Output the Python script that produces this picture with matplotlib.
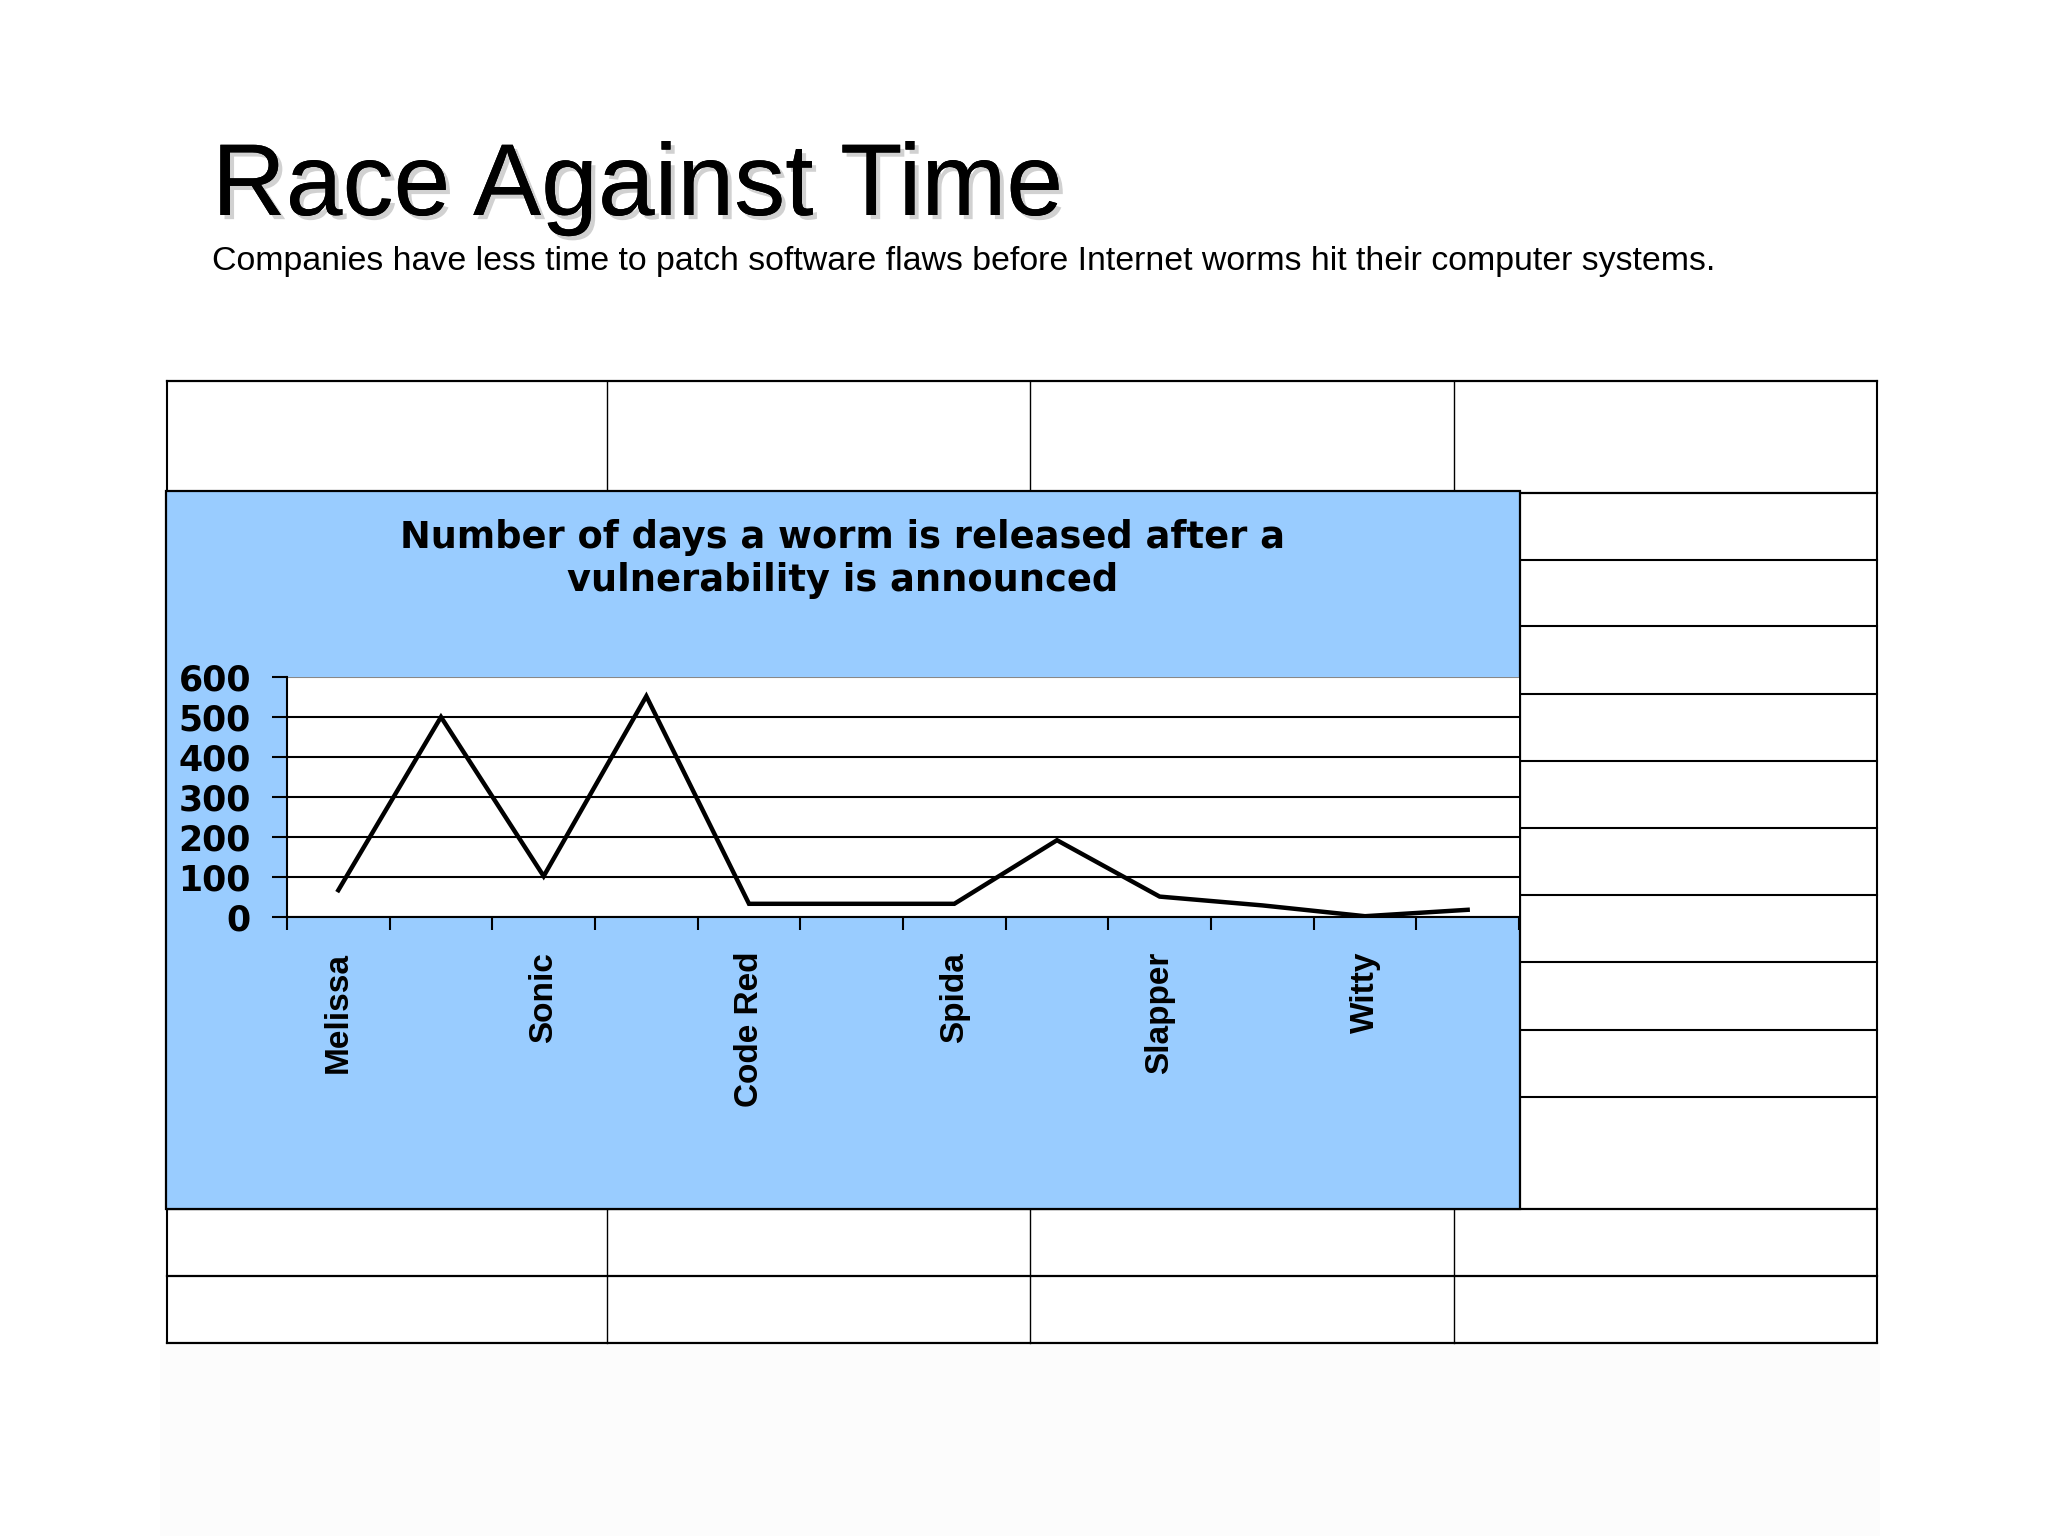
import matplotlib
matplotlib.use("Agg")
import matplotlib.pyplot as plt
import matplotlib.patheffects as pe
from matplotlib import font_manager
from matplotlib.patches import Rectangle

# ---------------- data ----------------
# only every other worm name is printed on the axis
worms = ["Melissa", "", "Sonic", "", "Code Red", "", "Spida", "", "Slapper", "", "Witty", ""]
days = [67, 500, 102, 552, 33, 33, 33, 192, 51, 29, 2, 18]
y_ticks = [0, 100, 200, 300, 400, 500, 600]

title = "Race Against Time"
subtitle = ("Companies have less time to patch software flaws before "
            "Internet worms hit their computer systems.")
chart_title = "Number of days a worm is released after a\nvulnerability is announced"

BLUE = "#99CCFF"
W, H = 2048, 1536

# pick a narrow font for the rotated labels if we have one
names = {f.name for f in font_manager.fontManager.ttflist}
narrow = "Liberation Sans"
for cand in ["Liberation Sans Narrow", "DejaVu Sans Condensed"]:
    if cand in names:
        narrow = cand
        break

fig = plt.figure(figsize=(W / 100, H / 100), dpi=100)
fig.patch.set_facecolor("white")

# background axes in pixel coordinates for the slide table + blue box
bg = fig.add_axes([0, 0, 1, 1])
bg.set_xlim(0, W)
bg.set_ylim(H, 0)
bg.axis("off")

# faint off-white block under the table
bg.add_patch(Rectangle((160, 1345), 1720, 200, facecolor="#fcfcfc", edgecolor="none", zorder=0))

# table grid behind the chart
cols = [167, 607, 1030, 1454, 1877]
top, bottom = 381, 1343
for x in cols[1:-1]:
    bg.plot([x, x], [top, bottom], color="black", lw=1.0, zorder=1)
for x in (cols[0], cols[-1]):
    bg.plot([x, x], [top, bottom], color="black", lw=1.5, zorder=1)
for y in [381, 493, 1209, 1276, 1343]:
    bg.plot([cols[0], cols[-1]], [y, y], color="black", lw=1.6, zorder=1)
for y in [560, 626, 694, 761, 828, 895, 962, 1030, 1097]:
    bg.plot([1520, cols[-1]], [y, y], color="black", lw=1.5, zorder=1)

# blue chart box
bg.add_patch(Rectangle((166, 491), 1520 - 166, 1209 - 491, facecolor=BLUE,
                       edgecolor="black", lw=1.6, zorder=2))

# slide titles
fig.text(212 / W, 1 - 215 / H, title, fontsize=73.5, family="Liberation Sans",
         va="baseline", ha="left",
         path_effects=[pe.withSimplePatchShadow(offset=(3, -3), shadow_rgbFace="#999999", alpha=0.45),
                       pe.Normal()])
fig.text(212 / W, 1 - 270 / H, subtitle, fontsize=24.4, family="Liberation Sans",
         va="baseline", ha="left")

# chart title
fig.text(843 / W, 1 - 559 / H, chart_title, fontsize=26.5, family="DejaVu Sans",
         fontweight="bold", ha="center", va="center", linespacing=1.2)

# ---------------- the line chart ----------------
ax = fig.add_axes([287 / W, 1 - 917 / H, (1519 - 287) / W, (917 - 677) / H])
ax.set_facecolor("white")
x = list(range(len(days)))
ax.plot(x, days, color="black", lw=3.2, zorder=3, solid_joinstyle="miter")

ax.set_xlim(-0.5, len(days) - 0.5)
ax.set_ylim(0, 600)
ax.set_yticks(y_ticks)
ax.set_yticklabels([str(v) for v in y_ticks], fontsize=25, fontweight="bold", family="DejaVu Sans")
ax.yaxis.grid(True, color="black", lw=1.5)
ax.get_ygridlines()[-1].set_color("#888888")
ax.set_axisbelow(True)

# boundaries get tick marks, centres get the names
ax.set_xticks([i - 0.5 for i in range(len(days) + 1)])
ax.set_xticklabels([])
ax.set_xticks(x, minor=True)
ax.set_xticklabels(worms, minor=True, rotation=90, fontsize=24, fontweight="bold", family=narrow)
ax.tick_params(axis="x", which="major", direction="out", length=9, width=1.5, color="black")
ax.tick_params(axis="x", which="minor", length=0, pad=25)
ax.tick_params(axis="y", direction="out", length=11, width=1.5, pad=15)

for s in ["top", "right"]:
    ax.spines[s].set_visible(False)
ax.spines["left"].set_linewidth(1.5)
ax.spines["bottom"].set_linewidth(1.5)

fig.savefig("out.png", dpi=100, facecolor="white")
